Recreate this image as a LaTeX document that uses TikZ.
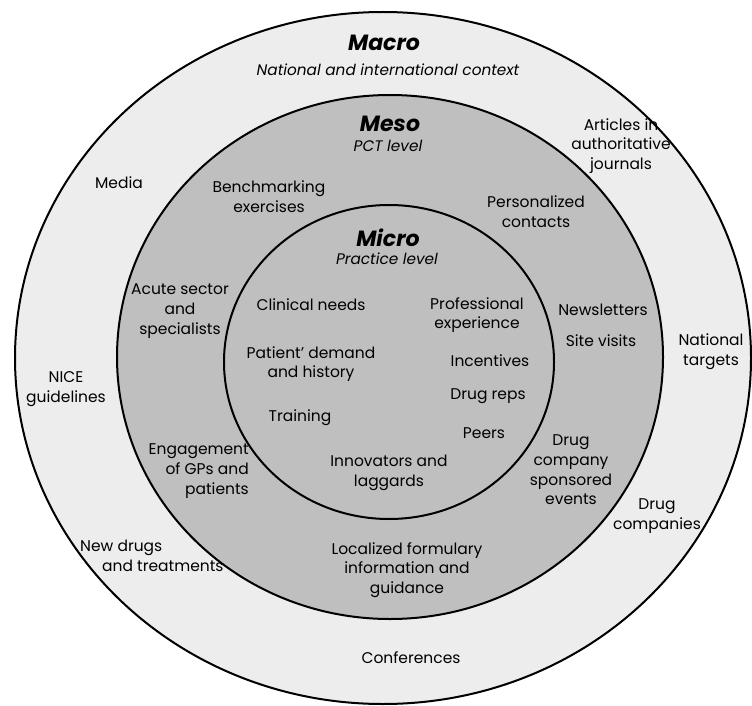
\documentclass[tikz,border=0pt]{standalone}
\usepackage{fontspec}
\setmainfont{Poppins}
\usepackage{xcolor}
\usepackage{tikz}
\colorlet{macro-color}{black!7}
\colorlet{meso-color}{black!25}
\colorlet{micro-color}{black!25}
\tikzset{
    ring/.style = {draw=black, line width=2pt},
    lbl/.style = {align=center, inner sep=0pt, font=\fontsize{15.5}{19.7}\selectfont},
    level/.style = {inner sep=0pt, font=\fontsize{22}{24}\selectfont\bfseries\itshape},
    sublevel/.style = {inner sep=0pt, font=\fontsize{15.3}{18}\selectfont\itshape},
}
\begin{document}
\begin{tikzpicture}[x=1pt,y=-1pt]
    \useasboundingbox (0,0) rectangle (752,706);
    \fill[white] (0,0) rectangle (752,706);

    % rings
    \draw[ring, fill=macro-color] (383,358) ellipse [x radius=368, y radius=346];
    \draw[ring, fill=meso-color] (390,357) ellipse [x radius=273, y radius=262];
    \draw[ring, fill=micro-color] (389,362) ellipse [x radius=165, y radius=157];

    % level titles
    \node[level] (macro) at (384,43) {Macro};
    \node[sublevel] (macro-sub) at (388,70) {National and international context};
    \node[level] (meso) at (390,124) {Meso};
    \node[sublevel] (meso-sub) at (388,146) {PCT level};
    \node[level] (micro) at (388,238) {Micro};
    \node[sublevel] (micro-sub) at (387,259) {Practice level};

    % macro
    \node[lbl] (media) at (119,183) {Media};
    \node[lbl] (articles) at (621,146) {Articles in\\authoritative\\journals};
    \node[lbl] (targets) at (711,352) {National\\targets};
    \node[lbl] (nice) at (66,389) {NICE\\guidelines};
    \node[lbl, align=left, anchor=west] (newdrugs) at (80,556) {New drugs\\\hspace*{22pt}and treatments};
    \node[lbl] (companies) at (657,516) {Drug\\companies};
    \node[lbl] (conferences) at (411,658) {Conferences};

    % meso
    \node[lbl] (benchmark) at (269,197) {Benchmarking\\exercises};
    \node[lbl] (contacts) at (536,212) {Personalized\\contacts};
    \node[lbl] (acute) at (180,311) {Acute sector\\and\\specialists};
    \node[lbl] (newsletters) at (603,310) {Newsletters};
    \node[lbl] (visits) at (601,341) {Site visits};
    \node[lbl, align=right, anchor=east] (engage) at (249,471) {Engagement\\of GPs and\\patients};
    \node[lbl] (events) at (571,470) {Drug\\company\\sponsored\\events};
    \node[lbl] (formulary) at (407,570) {Localized formulary\\information and\\guidance};

    % micro
    \node[lbl] (clinical) at (311,305) {Clinical needs};
    \node[lbl] (experience) at (477,315) {Professional\\experience};
    \node[lbl] (patient) at (311,364) {Patient’ demand\\and history};
    \node[lbl] (incentives) at (490,361) {Incentives};
    \node[lbl] (reps) at (488,396) {Drug reps};
    \node[lbl] (training) at (300,418) {Training};
    \node[lbl] (peers) at (484,433) {Peers};
    \node[lbl] (innovators) at (389,473) {Innovators and\\laggards};
\end{tikzpicture}
\end{document}
